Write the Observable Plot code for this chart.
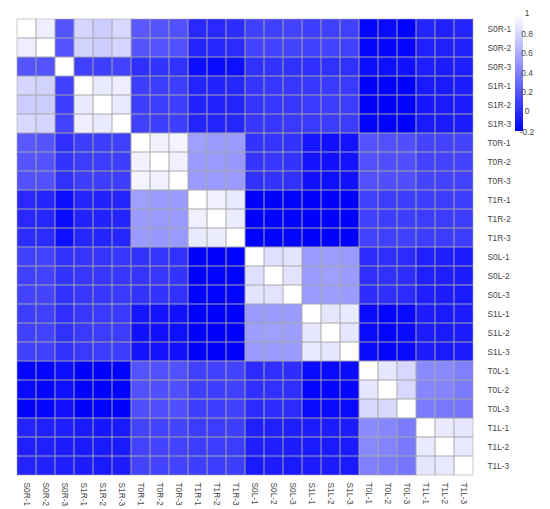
<!DOCTYPE html>
<html>
<head>
<meta charset="utf-8">
<script src="https://cdn.jsdelivr.net/npm/d3@7"></script>
<script src="https://cdn.jsdelivr.net/npm/@observablehq/plot@0.6"></script>
<style>
  html, body { margin: 0; padding: 0; background: #fff; }
  #chart svg { display: block; }
</style>
</head>
<body>
<div id="chart"></div>
<script>
const labels = ["S0R-1","S0R-2","S0R-3","S1R-1","S1R-2","S1R-3",
                "T0R-1","T0R-2","T0R-3","T1R-1","T1R-2","T1R-3",
                "S0L-1","S0L-2","S0L-3","S1L-1","S1L-2","S1L-3",
                "T0L-1","T0L-2","T0L-3","T1L-1","T1L-2","T1L-3"];

const values = [
 [1.00,0.92,0.20,0.80,0.76,0.82,0.22,0.20,0.18,-0.01,-0.01,0.01,0.10,0.10,0.11,0.09,0.10,0.10,-0.18,-0.16,-0.19,-0.03,-0.05,-0.03],
 [0.92,1.00,0.19,0.79,0.76,0.80,0.20,0.19,0.18,-0.03,-0.02,0.00,0.11,0.11,0.12,0.10,0.11,0.10,-0.18,-0.17,-0.18,-0.05,-0.05,-0.04],
 [0.20,0.19,1.00,0.10,0.09,0.11,0.02,0.04,0.03,-0.14,-0.15,-0.13,0.03,0.04,0.03,0.02,0.03,0.03,-0.14,-0.13,-0.12,-0.06,-0.07,-0.06],
 [0.80,0.79,0.10,1.00,0.90,0.92,0.09,0.08,0.09,-0.03,-0.04,-0.02,0.05,0.06,0.06,0.06,0.07,0.07,-0.20,-0.19,-0.20,-0.08,-0.08,-0.07],
 [0.76,0.76,0.09,0.90,1.00,0.90,0.09,0.08,0.09,-0.04,-0.04,-0.03,0.05,0.06,0.06,0.07,0.08,0.08,-0.20,-0.20,-0.19,-0.09,-0.08,-0.08],
 [0.82,0.80,0.11,0.92,0.90,1.00,0.10,0.09,0.09,-0.03,-0.03,-0.02,0.06,0.06,0.07,0.07,0.08,0.08,-0.19,-0.19,-0.20,-0.08,-0.08,-0.07],
 [0.22,0.20,0.02,0.09,0.09,0.10,1.00,0.94,0.95,0.55,0.53,0.53,0.04,0.05,0.04,-0.10,-0.12,-0.11,0.19,0.18,0.17,0.12,0.11,0.12],
 [0.20,0.19,0.04,0.08,0.08,0.09,0.94,1.00,0.93,0.53,0.52,0.51,0.05,0.06,0.04,-0.11,-0.12,-0.11,0.18,0.17,0.17,0.11,0.11,0.11],
 [0.18,0.18,0.03,0.09,0.09,0.09,0.95,0.93,1.00,0.53,0.52,0.52,0.03,0.04,0.03,-0.12,-0.13,-0.12,0.18,0.17,0.17,0.12,0.11,0.11],
 [-0.01,-0.03,-0.14,-0.03,-0.04,-0.03,0.55,0.53,0.53,1.00,0.93,0.90,-0.20,-0.20,-0.19,-0.20,-0.20,-0.20,0.10,0.09,0.09,0.08,0.08,0.09],
 [-0.01,-0.02,-0.15,-0.04,-0.04,-0.03,0.53,0.52,0.52,0.93,1.00,0.91,-0.20,-0.19,-0.19,-0.20,-0.20,-0.20,0.10,0.09,0.09,0.08,0.08,0.08],
 [0.01,0.00,-0.13,-0.02,-0.03,-0.02,0.53,0.51,0.52,0.90,0.91,1.00,-0.19,-0.19,-0.18,-0.20,-0.20,-0.20,0.11,0.10,0.10,0.09,0.08,0.09],
 [0.10,0.11,0.03,0.05,0.05,0.06,0.04,0.05,0.03,-0.20,-0.20,-0.19,1.00,0.85,0.87,0.52,0.54,0.52,0.00,0.02,0.00,-0.05,-0.06,-0.08],
 [0.10,0.11,0.04,0.06,0.06,0.06,0.05,0.06,0.04,-0.20,-0.19,-0.19,0.85,1.00,0.87,0.53,0.55,0.53,0.02,0.03,0.01,-0.05,-0.06,-0.07],
 [0.11,0.12,0.03,0.06,0.06,0.07,0.04,0.04,0.03,-0.19,-0.19,-0.18,0.87,0.87,1.00,0.53,0.54,0.53,0.01,0.02,0.00,-0.06,-0.07,-0.08],
 [0.09,0.10,0.02,0.06,0.07,0.07,-0.10,-0.11,-0.12,-0.20,-0.20,-0.20,0.52,0.53,0.53,1.00,0.88,0.90,-0.15,-0.18,-0.16,-0.07,-0.08,-0.07],
 [0.10,0.11,0.03,0.07,0.08,0.08,-0.12,-0.12,-0.13,-0.20,-0.20,-0.20,0.54,0.55,0.54,0.88,1.00,0.88,-0.16,-0.18,-0.16,-0.07,-0.08,-0.07],
 [0.10,0.10,0.03,0.07,0.08,0.08,-0.11,-0.11,-0.12,-0.20,-0.20,-0.20,0.52,0.53,0.53,0.90,0.88,1.00,-0.15,-0.17,-0.16,-0.07,-0.08,-0.08],
 [-0.18,-0.18,-0.14,-0.20,-0.20,-0.19,0.19,0.18,0.18,0.10,0.10,0.11,0.00,0.02,0.01,-0.15,-0.16,-0.15,1.00,0.88,0.81,0.45,0.44,0.40],
 [-0.16,-0.17,-0.13,-0.19,-0.20,-0.19,0.18,0.17,0.17,0.09,0.09,0.10,0.02,0.03,0.02,-0.18,-0.18,-0.17,0.88,1.00,0.82,0.43,0.42,0.38],
 [-0.19,-0.18,-0.12,-0.20,-0.19,-0.20,0.17,0.17,0.17,0.09,0.09,0.10,0.00,0.01,0.00,-0.16,-0.16,-0.16,0.81,0.82,1.00,0.38,0.37,0.35],
 [-0.03,-0.05,-0.06,-0.08,-0.09,-0.08,0.12,0.11,0.12,0.08,0.08,0.09,-0.05,-0.05,-0.06,-0.07,-0.07,-0.07,0.45,0.43,0.38,1.00,0.90,0.88],
 [-0.05,-0.05,-0.07,-0.08,-0.08,-0.08,0.11,0.11,0.11,0.08,0.08,0.08,-0.06,-0.06,-0.07,-0.08,-0.08,-0.08,0.44,0.42,0.37,0.90,1.00,0.89],
 [-0.03,-0.04,-0.06,-0.07,-0.08,-0.07,0.12,0.11,0.11,0.09,0.08,0.09,-0.08,-0.07,-0.08,-0.07,-0.07,-0.08,0.40,0.38,0.35,0.88,0.89,1.00]
];

const legendTicks = [-0.2, 0, 0.2, 0.4, 0.6, 0.8, 1];
const colorDomain = [-0.2, 1];
const colorRange = ["#0000ff", "#ffffff"];

const cells = [];
labels.forEach((row, i) => labels.forEach((col, j) => cells.push({row, col, v: values[i][j]})));

const W = 550, H = 509;
const mTop = 15, mLeft = 6, mRight = 66, mBottom = 30;

const plot = Plot.plot({
  width: W,
  height: H,
  marginTop: mTop,
  marginLeft: mLeft,
  marginRight: mRight,
  marginBottom: mBottom,
  style: {fontFamily: "Liberation Sans, Arial, sans-serif", fontSize: "8.3px", color: "#444", background: "#fff"},
  x: {domain: labels, padding: 0, label: null, tickSize: 0, tickPadding: 3, tickRotate: 90},
  y: {domain: labels, padding: 0, label: null, tickSize: 0, tickPadding: 3, axis: "right"},
  color: {type: "linear", domain: colorDomain, range: colorRange, interpolate: "rgb", clamp: true},
  marks: [
    Plot.cell(cells, {x: "col", y: "row", fill: "v", inset: 0}),
    Plot.cell(cells, {x: "col", y: "row", fill: "none", stroke: "#a8a8a8", strokeWidth: 0.8, strokeOpacity: 0.7, inset: 0})
  ]
});

document.getElementById("chart").appendChild(plot);

// vertical colour bar legend drawn with the plot's colour scale
const colorScale = plot.scale("color");
const svg = d3.select(plot);
const barX = 515, barW = 8, barTop = 15, barBottom = 131;
const ly = d3.scaleLinear().domain(colorDomain).range([barBottom, barTop]);
const defs = svg.append("defs");
const grad = defs.append("linearGradient").attr("id", "cbar")
  .attr("x1", 0).attr("y1", 1).attr("x2", 0).attr("y2", 0);
d3.range(0, 1.0001, 0.1).forEach(t => {
  const v = colorDomain[0] + t * (colorDomain[1] - colorDomain[0]);
  grad.append("stop").attr("offset", t).attr("stop-color", colorScale.apply(v));
});
const lg = svg.append("g");
lg.append("rect").attr("x", barX).attr("y", barTop).attr("width", barW)
  .attr("height", barBottom - barTop).attr("fill", "url(#cbar)");
lg.selectAll("text").data(legendTicks).join("text")
  .attr("x", barX + barW + 4)
  .attr("y", d => ly(d))
  .attr("dy", d => d === 1 ? "0.1em" : (d === -0.2 ? "0.5em" : "0.32em"))
  .attr("font-size", 8.3)
  .attr("fill", "#444")
  .attr("font-family", "Liberation Sans, Arial, sans-serif")
  .text(d => String(d));
</script>
</body>
</html>
